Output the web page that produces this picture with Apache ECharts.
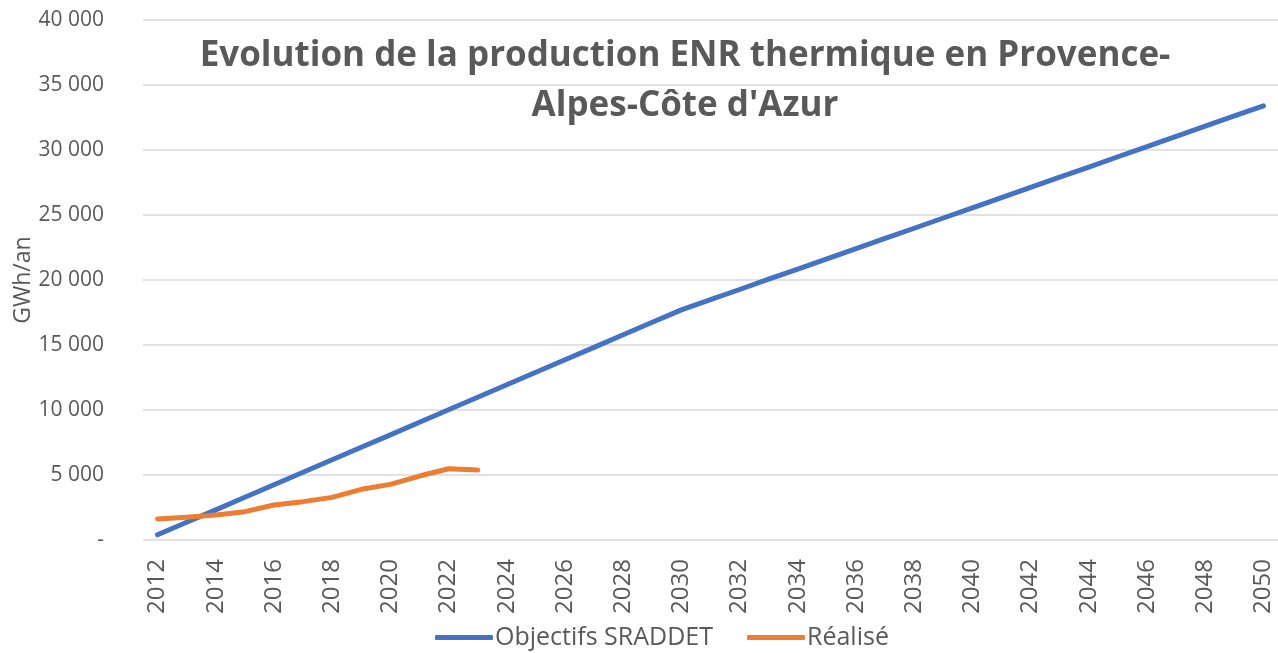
<!DOCTYPE html>
<html>
<head>
<meta charset="utf-8">
<title>Evolution de la production ENR thermique</title>
<script src="https://cdn.jsdelivr.net/npm/echarts@6/dist/echarts.min.js"></script>
<style>
  html, body { margin: 0; padding: 0; background: #fff; }
  #chart { width: 1278px; height: 653px; }
</style>
</head>
<body>
<div id="chart"></div>
<script>
// années 2012 -> 2050
const years = ['2012', '2013', '2014', '2015', '2016', '2017', '2018', '2019', '2020', '2021',
  '2022', '2023', '2024', '2025', '2026', '2027', '2028', '2029', '2030', '2031',
  '2032', '2033', '2034', '2035', '2036', '2037', '2038', '2039', '2040', '2041',
  '2042', '2043', '2044', '2045', '2046', '2047', '2048', '2049', '2050']

// GWh/an
const objectifs = [400, 1360, 2320, 3290, 4250, 5210, 6170, 7130, 8090, 9060,
  10020, 10980, 11940, 12900, 13860, 14820, 15790, 16750, 17700, 18490,
  19270, 20060, 20840, 21630, 22410, 23200, 23980, 24770, 25550, 26340,
  27120, 27910, 28690, 29480, 30260, 31050, 31830, 32620, 33400]

const realise = [1620, 1750, 1920, 2180, 2690, 2950, 3280, 3900, 4280, 4920, 5480, 5380]

const textColor = '#595959'
const font = 'Open Sans'

var chart = echarts.init(document.getElementById('chart'))
chart.setOption({
  animation: false,
  color: ['#4472C4', '#ED7D31'],
  title: {
    text: 'Evolution de la production ENR thermique en Provence-\nAlpes-Côte d\'Azur',
    left: 680,
    top: 26,
    textAlign: 'center',
    textStyle: {
      fontFamily: font,
      fontSize: 35,
      fontWeight: 'bold',
      color: textColor,
      lineHeight: 50
    }
  },
  legend: {
    bottom: -2,
    left: 430,
    icon: 'roundRect',
    itemWidth: 58,
    itemHeight: 5,
    itemGap: 34,
    textStyle: { fontFamily: font, fontSize: 25, color: textColor, padding: [0, 0, 0, -3] },
    data: ['Objectifs SRADDET', 'Réalisé']
  },
  grid: {
    left: 143,
    right: 0,
    top: 20,
    bottom: 113
  },
  xAxis: {
    type: 'category',
    data: years,
    boundaryGap: true,
    axisLine: { show: false },
    axisTick: { show: false },
    axisLabel: {
      interval: 1,
      rotate: 90,
      margin: 19,
      fontFamily: font,
      fontSize: 24,
      color: textColor
    }
  },
  yAxis: {
    type: 'value',
    min: 0,
    max: 40000,
    interval: 5000,
    name: 'GWh/an',
    nameLocation: 'middle',
    nameGap: 108,
    nameMoveOverlap: false,
    nameTextStyle: { fontFamily: font, fontSize: 23, color: textColor },
    axisLine: { show: false },
    axisTick: { show: false },
    axisLabel: {
      margin: 39,
      fontFamily: font,
      fontSize: 21,
      color: textColor,
      formatter: function (v) {
        if (v === 0) return '-'
        return String(v).replace(/\B(?=(\d{3})+(?!\d))/g, '\u00a0')
      }
    },
    splitLine: { lineStyle: { color: '#d9d9d9', width: 1.5 } }
  },
  series: [
    {
      name: 'Objectifs SRADDET',
      type: 'line',
      data: objectifs,
      symbol: 'none',
      lineStyle: { width: 5, cap: 'round', join: 'round' }
    },
    {
      name: 'Réalisé',
      type: 'line',
      data: realise,
      symbol: 'none',
      lineStyle: { width: 5, cap: 'round', join: 'round' }
    }
  ]
})
</script>
</body>
</html>
